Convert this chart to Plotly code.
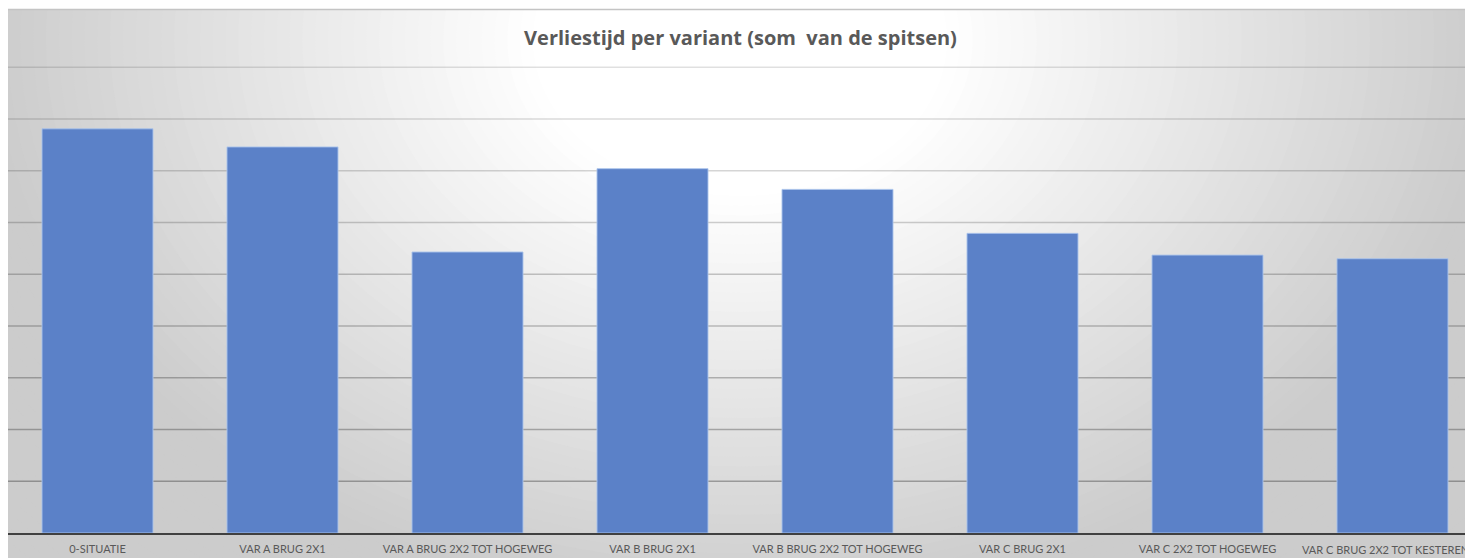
import plotly.graph_objects as go

# ---- data ----
categories = [
    "0-SITUATIE",
    "VAR A BRUG 2X1",
    "VAR A BRUG 2X2 TOT HOGEWEG",
    "VAR B BRUG 2X1",
    "VAR B BRUG 2X2 TOT HOGEWEG",
    "VAR C BRUG 2X1",
    "VAR C 2X2 TOT HOGEWEG",
    "VAR C BRUG 2X2 TOT KESTEREN",
]
values = [7.81, 7.46, 5.43, 7.04, 6.64, 5.79, 5.37, 5.30]
grid_values = [1, 2, 3, 4, 5, 6, 7, 8, 9]
title_text = "Verliestijd per variant (som\u00a0 van de spitsen)"

# ---- layout geometry (pixels, figure coords; page has an 8px body margin) ----
OFF = 8
W, H = 1473 - OFF, 558 - OFF
L, T, B = 0, 1, 25
PW, PH = W - L, H - T - B
BASE = H - B


def px_x(p):  # page pixel -> paper
    return (p - OFF - L) / PW


def px_y(p):
    return (BASE - (p - OFF)) / PH


fig = go.Figure()
fig.add_trace(go.Bar(
    x=list(range(len(categories))),
    y=values,
    marker=dict(color="#5b81c8", line=dict(color="rgba(170,195,235,0.9)", width=1)),
    width=0.6,
    hoverinfo="x+y",
))

shapes = []
# radial-ish background gradient via stacked ellipses (page pixel coords)
cx, cy, rx, ry = 740, 40, 690, 520
t0, cap = 0.30, 204


def shade(t):
    v = 255 - (t - t0) / (1 - t0) * 45 if t > t0 else 255
    v = max(cap, int(round(v)))
    return f"rgb({v},{v},{v})"


shapes.append(dict(type="rect", xref="paper", yref="paper",
                   x0=px_x(0), x1=px_x(1480), y0=px_y(600), y1=px_y(9),
                   fillcolor=shade(2.0), line=dict(width=0), layer="below"))
n = 70
for i in range(n + 1):
    t = 1.6 - (1.6 - t0) * i / n
    shapes.append(dict(type="circle", xref="paper", yref="paper",
                       x0=px_x(cx - rx * t), x1=px_x(cx + rx * t),
                       y0=px_y(cy + ry * t), y1=px_y(cy - ry * t),
                       fillcolor=shade(t), line=dict(width=0), layer="below"))
# white strip above the chart frame
shapes.append(dict(type="rect", xref="paper", yref="paper",
                   x0=px_x(-50), x1=px_x(1550), y0=px_y(9), y1=px_y(-2000),
                   fillcolor="white", line=dict(width=0), layer="below"))
shapes.append(dict(type="line", xref="paper", yref="paper",
                   x0=px_x(8), x1=px_x(1473), y0=px_y(9.5), y1=px_y(9.5),
                   line=dict(color="#c4c4c4", width=1.5), layer="below"))
# gridlines, darker toward the bottom
for g in grid_values:
    a = 0.10 + 0.22 * (1 - g / 10)
    shapes.append(dict(type="line", xref="paper", yref="y",
                       x0=0, x1=1, y0=g, y1=g,
                       line=dict(color=f"rgba(0,0,0,{a:.3f})", width=1.5),
                       layer="below"))

tick_font = dict(family="Lato", size=11, color="#595959")
# last category label is pushed left to stay inside the frame (as in the reference)
ticktext = categories[:-1] + [""]
annotations = [dict(text=categories[-1], xref="paper", yref="paper",
                    x=px_x(1471), y=px_y(549.5), xanchor="right", yanchor="middle",
                    showarrow=False, font=tick_font)]

fig.update_layout(
    width=W, height=H,
    margin=dict(l=L, r=0, t=T, b=B, pad=0),
    paper_bgcolor="white",
    plot_bgcolor="rgba(0,0,0,0)",
    showlegend=False,
    bargap=0.4,
    shapes=shapes,
    annotations=annotations,
    title=dict(text=title_text, x=0.5, xanchor="center", xref="paper",
               y=1 - (38 - OFF) / H, yanchor="middle", yref="container",
               font=dict(family="Open Sans", size=20, color="#595959", weight="bold")),
    xaxis=dict(
        tickmode="array", tickvals=list(range(len(categories))), ticktext=ticktext,
        range=[(OFF + L - 97.5) / 185, (1473 - 97.5) / 185],
        showgrid=False, zeroline=False,
        showline=True, linecolor="#404040", linewidth=2,
        ticks="outside", ticklen=5, tickcolor="rgba(0,0,0,0)",
        tickfont=tick_font,
        ticklabeloverflow="allow",
        tickangle=0, fixedrange=True,
    ),
    yaxis=dict(
        range=[0, PH / 51.75], showgrid=False, zeroline=False,
        showticklabels=False, showline=False, fixedrange=True,
    ),
)

fig.write_html("out.html")
